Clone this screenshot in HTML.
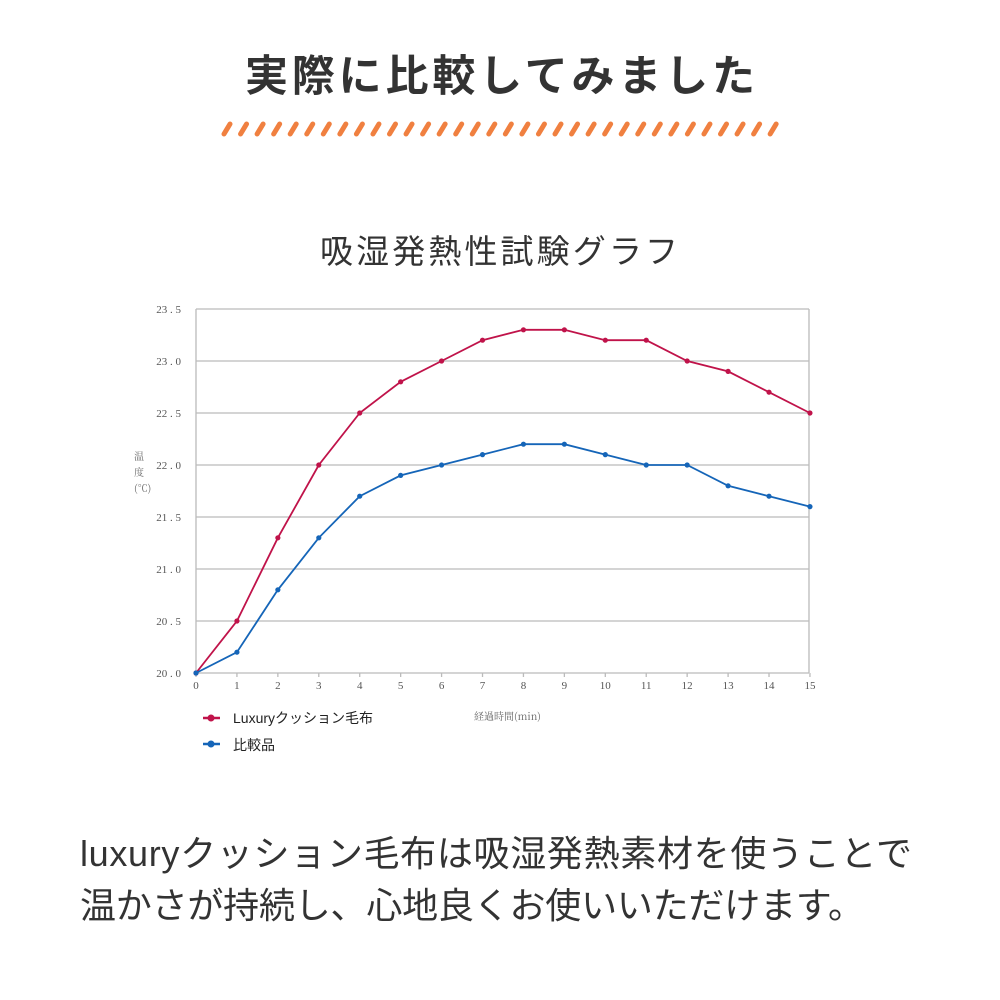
<!DOCTYPE html>
<html><head><meta charset="utf-8"><style>
html,body{margin:0;padding:0;background:#fff;}
svg{display:block}
</style></head><body>
<svg width="1000" height="1000" viewBox="0 0 1000 1000" xmlns="http://www.w3.org/2000/svg">
<rect width="1000" height="1000" fill="#fff"/>
<text x="500" y="91" text-anchor="middle" font-family="'Noto Sans CJK JP',sans-serif" font-weight="bold" font-size="43" fill="#333" textLength="510" lengthAdjust="spacing">実際に比較してみました</text>
<g stroke="#f08040" stroke-width="5" stroke-linecap="round" id="stripes"></g>
<text x="499" y="263" text-anchor="middle" font-family="'Noto Sans CJK JP',sans-serif" font-size="33" fill="#333" textLength="358" lengthAdjust="spacing">吸湿発熱性試験グラフ</text>
<g id="grid" stroke="#bbb" stroke-width="1.3" fill="none"></g>
<g id="labels" font-family="'Liberation Serif',serif" font-size="11" fill="#555"></g>
<text font-family="'Noto Serif CJK SC',serif" font-size="10" fill="#666"><tspan x="134" y="460">温</tspan><tspan x="134" y="476">度</tspan><tspan x="134" y="492">(℃)</tspan></text>
<text x="474" y="720" font-family="'Noto Serif CJK SC',serif" font-size="10" fill="#666">経過時間(min)</text>
<g id="series"></g>
<line x1="203" y1="718" x2="220" y2="718" stroke="#c0134a" stroke-width="2.5"/><circle cx="211" cy="718" r="3.5" fill="#c0134a"/>
<text x="233" y="723" font-family="'Liberation Sans','Noto Sans CJK JP',sans-serif" font-size="14" fill="#222">Luxuryクッション毛布</text>
<line x1="203" y1="744" x2="220" y2="744" stroke="#1565b8" stroke-width="2.5"/><circle cx="211" cy="744" r="3.5" fill="#1565b8"/>
<text x="233" y="750" font-family="'Noto Sans CJK JP',sans-serif" font-size="14" fill="#222">比較品</text>
<text x="80" y="866" font-family="'Liberation Sans','Noto Sans CJK JP',sans-serif" font-size="36" fill="#333" textLength="832" lengthAdjust="spacing">luxuryクッション毛布は吸湿発熱素材を使うことで</text>
<text x="80" y="918" font-family="'Noto Sans CJK JP',sans-serif" font-size="36" fill="#333" textLength="784" lengthAdjust="spacing">温かさが持続し、心地良くお使いいただけます。</text>
</svg>
<script>
var NS="http://www.w3.org/2000/svg";
function el(p,t,a,txt){var e=document.createElementNS(NS,t);for(var k in a)e.setAttribute(k,a[k]);if(txt!=null)e.textContent=txt;document.getElementById(p).appendChild(e);return e;}
for(var i=0;i<34;i++){var x=224+i*16.55;el("stripes","line",{x1:x,y1:134,x2:x+6,y2:124});}
var X=function(i){return 196+i*40.93;},Y=function(v){return 673-(v-20)*104;};
for(var k=0;k<=7;k++){var y=Y(20+k*0.5);el("grid","line",{x1:196,y1:y,x2:809,y2:y});
el("labels","text",{x:181,y:y+4,"text-anchor":"end"},(20+k*0.5).toFixed(1).replace("."," . "));}
el("grid","line",{x1:196,y1:309,x2:196,y2:673});el("grid","line",{x1:809,y1:309,x2:809,y2:673});
for(var i=0;i<=15;i++){el("grid","line",{x1:X(i),y1:673,x2:X(i),y2:677});el("labels","text",{x:X(i),y:689,"text-anchor":"middle"},i);}
var R=[20,20.5,21.3,22,22.5,22.8,23,23.2,23.3,23.3,23.2,23.2,23,22.9,22.7,22.5];
var B=[20,20.2,20.8,21.3,21.7,21.9,22,22.1,22.2,22.2,22.1,22,22,21.8,21.7,21.6];
function s(d,c){var p=d.map(function(v,i){return X(i)+","+Y(v);}).join(" ");
el("series","polyline",{points:p,fill:"none",stroke:c,"stroke-width":1.8});
d.forEach(function(v,i){el("series","circle",{cx:X(i),cy:Y(v),r:2.6,fill:c});});}
s(R,"#c0134a");s(B,"#1565b8");
</script>
</body></html>
